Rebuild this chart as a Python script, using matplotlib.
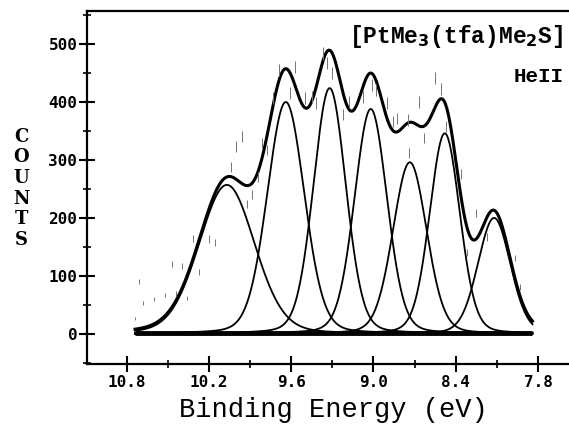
import numpy as np
import matplotlib
matplotlib.use("Agg")
import matplotlib.pyplot as plt
from matplotlib.ticker import MultipleLocator

# fitted bands: centre (eV), height (counts), half width (eV)
peak_centres = [10.07, 9.64, 9.32, 9.02, 8.735, 8.48, 8.12]
peak_heights = [257, 400, 424, 388, 296, 346, 200]
peak_widths = [0.24, 0.16, 0.14, 0.14, 0.145, 0.13, 0.14]
lorentz_frac = 0.15
fit_range = (10.74, 7.84)

# measured points (binding energy, counts)
data_energy = [10.74, 10.71, 10.68, 10.60, 10.52, 10.47, 10.44, 10.40, 10.36,
               10.32, 10.27, 10.20, 10.16, 10.04, 10.00, 9.96, 9.92, 9.89,
               9.84, 9.81, 9.78, 9.73, 9.69, 9.61, 9.57, 9.50, 9.45, 9.42,
               9.37, 9.34, 9.30, 9.22, 9.18, 9.08, 9.01, 8.98, 8.90, 8.86,
               8.83, 8.75, 8.74, 8.67, 8.63, 8.55, 8.51, 8.47, 8.36, 8.32,
               8.25, 8.17, 7.97, 7.93]
data_counts = [26, 90, 53, 60, 67, 121, 69, 117, 62,
               165, 107, 164, 157, 288, 323, 341, 224, 240,
               271, 329, 317, 407, 455, 415, 460, 407, 409, 398,
               484, 467, 450, 378, 400, 409, 429, 421, 398, 366,
               372, 369, 312, 400, 338, 441, 422, 357, 276, 141,
               209, 167, 131, 81]


def band(x, c, a, w):
    u = ((x - c) / w) ** 2
    return a * ((1 - lorentz_frac) * np.exp(-np.log(2) * u) + lorentz_frac / (1 + u))


def main():
    fig = plt.figure(figsize=(5.69, 4.24), dpi=100)
    ax = fig.add_axes([0.153, 0.1415, 0.8647, 0.8325])

    x = np.linspace(fit_range[0], fit_range[1], 600)
    total = np.zeros_like(x)
    for c, a, w in zip(peak_centres, peak_heights, peak_widths):
        y = band(x, c, a, w)
        total += y
        ax.plot(x, y, color="black", lw=1.3)
    ax.plot(x, total, color="black", lw=2.2)
    ax.plot(fit_range, [2, 2], color="black", lw=3.5, solid_capstyle="butt")

    counts = np.array(data_counts)
    ax.errorbar(data_energy, counts, yerr=np.sqrt(counts) / 2, fmt="none",
                ecolor="0.45", elinewidth=0.7, capsize=0)

    ax.set_xlim(11.09, 7.5)
    ax.set_ylim(-52, 557)
    ax.xaxis.set_minor_locator(MultipleLocator(0.3))
    ax.yaxis.set_minor_locator(MultipleLocator(50))
    ax.set_xticks([10.8, 10.2, 9.6, 9.0, 8.4, 7.8])
    ax.set_xticklabels(["10.8", "10.2", "9.6", "9.0", "8.4", "7.8"])
    ax.set_yticks([0, 100, 200, 300, 400, 500])
    ax.tick_params(which="major", direction="inout", length=12, width=1.5)
    ax.tick_params(which="minor", direction="inout", length=6, width=1.2)
    ax.tick_params(axis="x", pad=2)
    ax.tick_params(axis="y", pad=1)
    for lab in ax.get_xticklabels() + ax.get_yticklabels():
        lab.set_family("DejaVu Sans Mono")
        lab.set_weight("bold")
        lab.set_fontsize(11.5)

    ax.spines["right"].set_visible(False)
    for s in ["left", "bottom", "top"]:
        ax.spines[s].set_linewidth(1.6)

    ax.set_xlabel("Binding Energy (eV)", family="Liberation Mono",
                  fontsize=19.5, labelpad=5)
    fig.text(0.037, 0.556, "\n".join("COUNTS"), family="DejaVu Serif",
             weight="bold", fontsize=13, ha="center", va="center",
             linespacing=1.18)
    fig.text(0.99, 0.915, r"[PtMe$_\mathbf{3}$(tfa)Me$_\mathbf{2}$S]",
             family="Liberation Mono", weight="bold", fontsize=16.5,
             ha="right", va="center")
    fig.text(0.99, 0.82, "HeII", family="Liberation Mono", weight="bold",
             fontsize=15, ha="right", va="center")

    fig.savefig("out.png", dpi=100)


if __name__ == "__main__":
    main()
